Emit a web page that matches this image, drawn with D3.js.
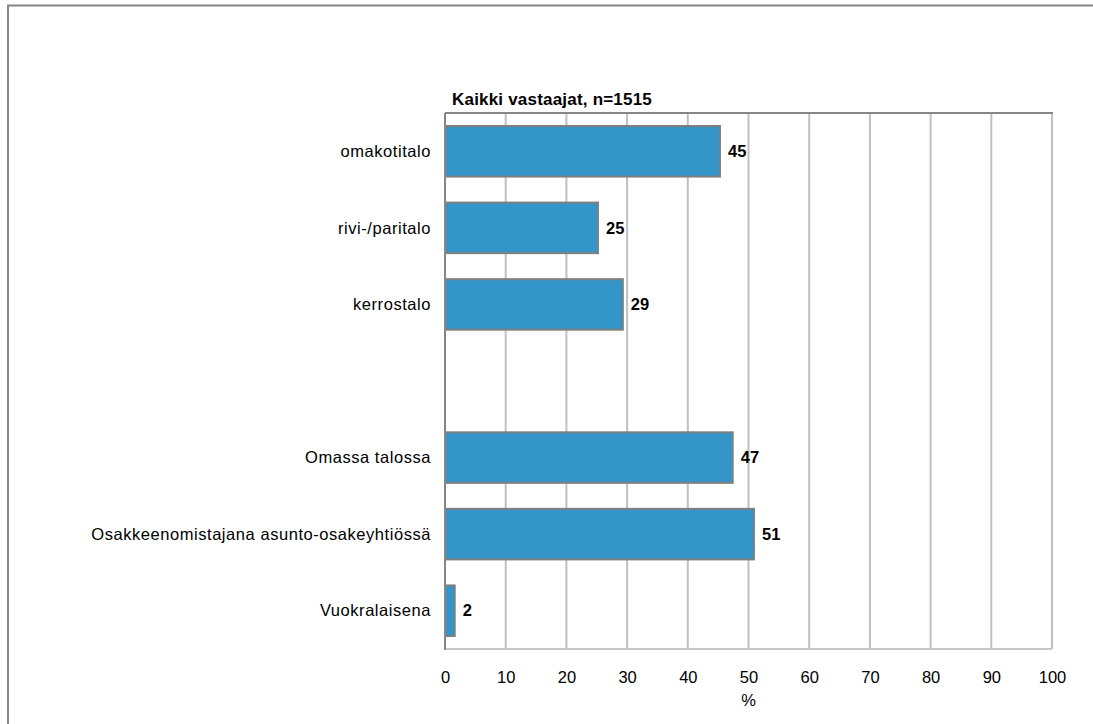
<!DOCTYPE html>
<html>
  <head>
    <meta charset="utf-8">
    <title>Kaikki vastaajat</title>
    <script type="text/javascript" src="https://cdn.jsdelivr.net/npm/d3@7"></script>
    <style type="text/css">
      body { margin: 0; background: #fff; }
      text { font-family: "Liberation Sans", Arial, sans-serif; fill: #000; }
    </style>
  </head>
  <body>
    <script type="text/javascript">
      // data (blank row is the gap between the two groups)
      var categories = ['omakotitalo', 'rivi-/paritalo', 'kerrostalo', '',
                        'Omassa talossa', 'Osakkeenomistajana asunto-osakeyhtiössä', 'Vuokralaisena'];
      var values = [45.3, 25.2, 29.3, null, 47.4, 50.9, 1.6];
      var labels = ['45', '25', '29', '', '47', '51', '2'];
      var xTicks = [0, 10, 20, 30, 40, 50, 60, 70, 80, 90, 100];
      var title = 'Kaikki vastaajat, n=1515';
      var xTitle = '%';

      var w = 1093;
      var h = 724;
      // note: "top" is taken by window.top, so plot* names
      var plotLeft = 445, plotRight = 1052, plotTop = 113, plotBottom = 649;

      var rows = categories.map(function(c, i) {
        return {key: i, name: c, value: values[i], label: labels[i]};
      });

      var svg = d3.select('body')
                  .append('svg')
                  .attr('width', w)
                  .attr('height', h);

      // outer frame (runs off the right and bottom edge)
      svg.append('rect')
        .attr('x', 8).attr('y', 5.5)
        .attr('width', 1200).attr('height', 800)
        .attr('fill', 'none')
        .attr('stroke', '#868686')
        .attr('stroke-width', 2);

      var x = d3.scaleLinear().domain([0, 100]).range([plotLeft, plotRight]);
      var y = d3.scaleBand()
                .domain(rows.map(function(d) {return d.key;}))
                .range([plotTop, plotBottom])
                .paddingInner(0.34)
                .paddingOuter(0.17);

      // vertical grid lines
      svg.selectAll('line.grid')
        .data(xTicks.slice(1))
        .enter()
        .append('line')
        .attr('class', 'grid')
        .attr('x1', function(d) {return x(d);})
        .attr('x2', function(d) {return x(d);})
        .attr('y1', plotTop)
        .attr('y2', plotBottom)
        .attr('stroke', '#c0c0c0')
        .attr('stroke-width', 2);

      // bottom axis line
      svg.append('line')
        .attr('x1', plotLeft).attr('x2', plotRight)
        .attr('y1', plotBottom).attr('y2', plotBottom)
        .attr('stroke', '#c8c8c8')
        .attr('stroke-width', 2);

      // top border of plot
      svg.append('line')
        .attr('x1', plotLeft).attr('x2', plotRight + 1)
        .attr('y1', plotTop).attr('y2', plotTop)
        .attr('stroke', '#868686')
        .attr('stroke-width', 2);

      // x tick labels
      var xAxis = d3.axisBottom(x).tickValues(xTicks).tickSize(0).tickPadding(0);
      var gx = svg.append('g')
        .attr('transform', 'translate(0,' + (plotBottom + 34) + ')')
        .call(xAxis);
      gx.select('.domain').remove();
      gx.selectAll('text')
        .attr('font-size', '16.5px')
        .attr('dy', '0')
        .style('font-family', '"Liberation Sans", Arial, sans-serif')
        .attr('fill', '#000');

      svg.append('text')
        .text(xTitle)
        .attr('x', (plotLeft + plotRight) / 2)
        .attr('y', plotBottom + 57)
        .attr('text-anchor', 'middle')
        .attr('font-size', '16.5px');

      // bars
      var bars = rows.filter(function(d) {return d.value !== null;});
      svg.selectAll('rect.bar')
        .data(bars)
        .enter()
        .append('rect')
        .attr('class', 'bar')
        .attr('x', x(0))
        .attr('y', function(d) {return y(d.key);})
        .attr('width', function(d) {return x(d.value) - x(0);})
        .attr('height', y.bandwidth())
        .attr('fill', '#3395c8')
        .attr('stroke', '#7f7f7f')
        .attr('stroke-width', 2);

      // value labels
      svg.selectAll('text.val')
        .data(bars)
        .enter()
        .append('text')
        .attr('class', 'val')
        .text(function(d) {return d.label;})
        .attr('x', function(d) {return x(d.value) + 8;})
        .attr('y', function(d) {return y(d.key) + y.bandwidth() / 2;})
        .attr('dy', '0.35em')
        .attr('font-size', '16.5px')
        .attr('font-weight', 'bold');

      // category labels
      svg.selectAll('text.cat')
        .data(rows)
        .enter()
        .append('text')
        .attr('class', 'cat')
        .text(function(d) {return d.name;})
        .attr('x', plotLeft - 14)
        .attr('y', function(d) {return y(d.key) + y.bandwidth() / 2;})
        .attr('dy', '0.35em')
        .attr('text-anchor', 'end')
        .attr('font-size', '16.5px')
        .attr('letter-spacing', '0.55px');

      // left axis line
      svg.append('line')
        .attr('x1', plotLeft).attr('x2', plotLeft)
        .attr('y1', plotTop).attr('y2', plotBottom + 1)
        .attr('stroke', '#868686')
        .attr('stroke-width', 2);

      // chart title
      svg.append('text')
        .text(title)
        .attr('x', plotLeft + 7)
        .attr('y', plotTop - 8)
        .attr('font-size', '17px')
        .attr('font-weight', 'bold')
        .attr('letter-spacing', '0.2px');
    </script>
  </body>
</html>
